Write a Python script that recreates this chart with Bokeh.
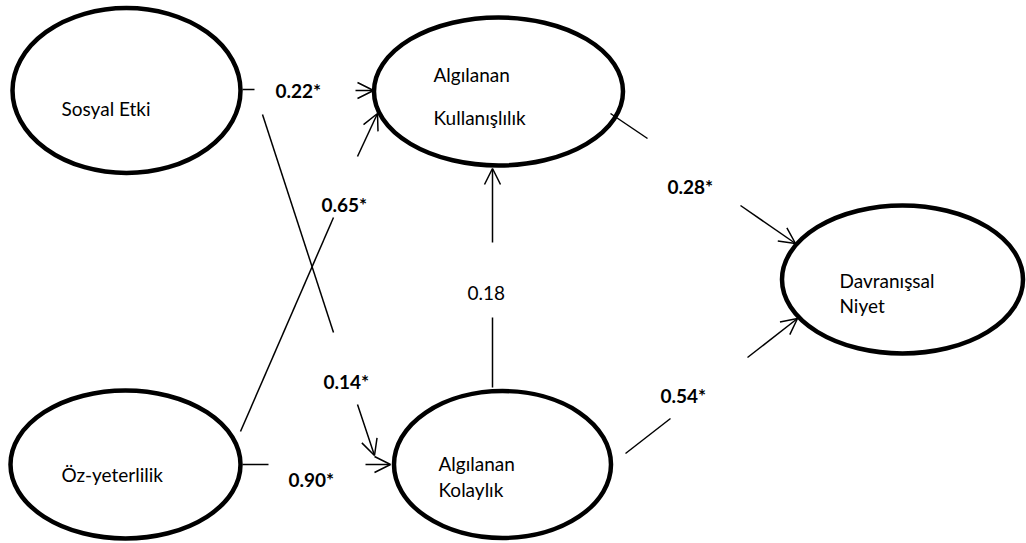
from bokeh.plotting import figure
from bokeh.models import Range1d, Arrow, OpenHead
from bokeh.embed import file_html
from bokeh.resources import INLINE
from bokeh.core.properties import value

# ---- Content (model) ----
node_names = ["Sosyal Etki", "Algılanan Kullanışlılık", "Öz-yeterlilik",
              "Algılanan Kolaylık", "Davranışsal Niyet"]
node_text_lines = [["Sosyal Etki"], ["Algılanan", "Kullanışlılık"], ["Öz-yeterlilik"],
                   ["Algılanan", "Kolaylık"], ["Davranışsal", "Niyet"]]
path_from = ["Sosyal Etki", "Öz-yeterlilik", "Sosyal Etki", "Öz-yeterlilik",
             "Algılanan Kolaylık", "Algılanan Kullanışlılık", "Algılanan Kolaylık"]
path_to = ["Algılanan Kullanışlılık", "Algılanan Kullanışlılık", "Algılanan Kolaylık",
           "Algılanan Kolaylık", "Algılanan Kullanışlılık", "Davranışsal Niyet",
           "Davranışsal Niyet"]
path_coef = ["0.22*", "0.65*", "0.14*", "0.90*", "0.18", "0.28*", "0.54*"]
path_significant = [True, True, True, True, False, True, True]

# ---- Layout (pixel-like coordinates, y downward) ----
node_cx = [126, 498, 125, 502, 902]
node_cy = [90, 91, 464, 464, 279]
node_w = [228, 249, 230, 217, 241]
node_h = [165, 148, 148, 147, 148]
node_text_x = [61, 433, 61, 438, 839]
node_text_y = [[108], [74, 117], [474], [463, 489], [280, 305]]

coef_x = [275, 321, 323, 288, 467, 667, 660]
coef_y = [90, 204, 381, 479, 292, 186, 395]

# each path: a plain segment from source side, then an arrow to the target
seg_x0 = [242, 240, 262, 242, 492, 610, 625]
seg_y0 = [89, 431, 114, 464, 317, 113, 453]
seg_x1 = [254, 333, 333, 268, 492, 647, 670]
seg_y1 = [89, 217, 332, 464, 387, 138, 418]
arr_x0 = [355, 357, 357, 365, 492, 740, 747]
arr_y0 = [90, 156, 404, 464, 242, 205, 357]
arr_x1 = [373, 377, 374, 390, 492, 795, 797]
arr_y1 = [90, 113, 455, 464, 168, 243, 318]

FONT = "Lato"
FS = "19px"

p = figure(width=1026, height=543, output_backend="svg", toolbar_location=None,
           x_range=Range1d(0, 1026), y_range=Range1d(543, 0),
           min_border=0, background_fill_color="white", border_fill_color="white")
p.axis.visible = False
p.grid.visible = False
p.outline_line_color = None

p.ellipse(x=node_cx, y=node_cy, width=node_w, height=node_h,
          fill_color=None, line_color="black", line_width=4.5)

p.segment(x0=seg_x0, y0=seg_y0, x1=seg_x1, y1=seg_y1, line_color="black", line_width=1.5)

for i in range(len(path_coef)):
    p.add_layout(Arrow(end=OpenHead(size=16, line_width=1.5, line_color="black"),
                       x_start=arr_x0[i], y_start=arr_y0[i], x_end=arr_x1[i], y_end=arr_y1[i],
                       line_width=1.5, line_color="black"))

# node labels
tx, ty, tt = [], [], []
for i, lines in enumerate(node_text_lines):
    for j, line in enumerate(lines):
        tx.append(node_text_x[i])
        ty.append(node_text_y[i][j])
        tt.append(line)
p.text(x=tx, y=ty, text=tt, text_font=value(FONT), text_font_size=FS,
       text_align="left", text_baseline="alphabetic", text_color="black")

# coefficients
bx = [coef_x[i] for i in range(len(path_coef)) if path_significant[i]]
by = [coef_y[i] for i in range(len(path_coef)) if path_significant[i]]
bt = [path_coef[i] for i in range(len(path_coef)) if path_significant[i]]
p.text(x=bx, y=by, text=bt, text_font=value(FONT), text_font_size=FS,
       text_font_style="bold", text_align="left", text_baseline="alphabetic",
       text_color="black")
nx = [coef_x[i] for i in range(len(path_coef)) if not path_significant[i]]
ny = [coef_y[i] for i in range(len(path_coef)) if not path_significant[i]]
nt = [path_coef[i] for i in range(len(path_coef)) if not path_significant[i]]
p.text(x=nx, y=ny, text=nt, text_font=value(FONT), text_font_size=FS,
       text_align="left", text_baseline="alphabetic", text_color="black")

open("out.html", "w").write(file_html(p, INLINE))
